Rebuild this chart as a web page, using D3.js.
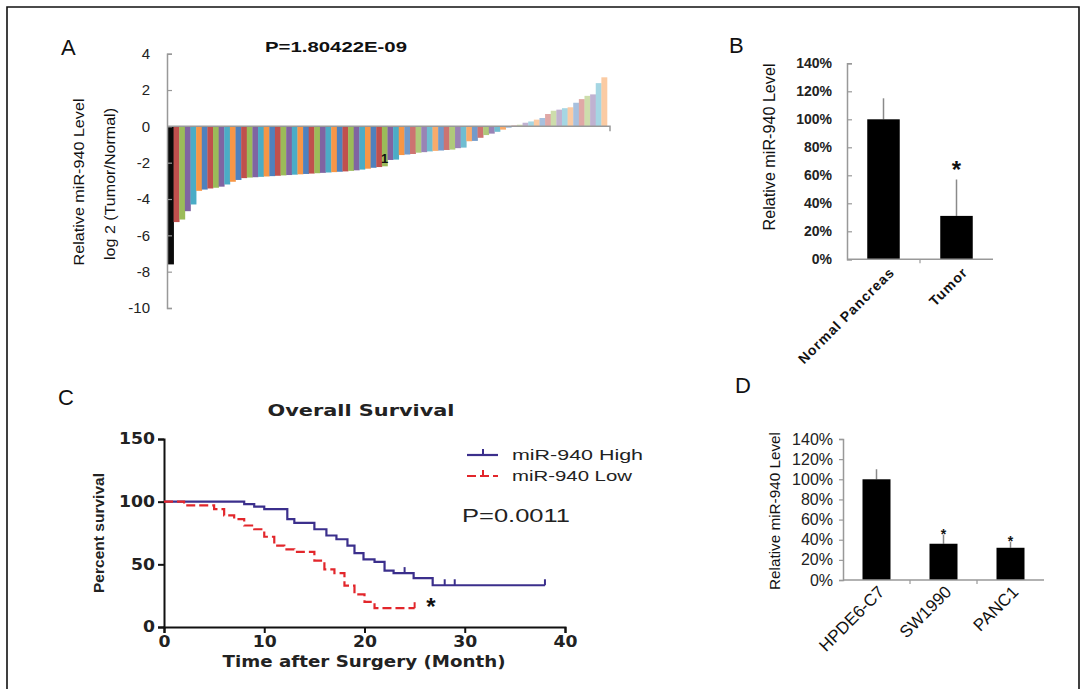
<!DOCTYPE html>
<html>
<head>
<meta charset="utf-8">
<script src="https://cdnjs.cloudflare.com/ajax/libs/d3/7.8.5/d3.min.js"></script>
<style>
  body { margin: 0; background: #fff; }
  svg { display: block; }
</style>
</head>
<body>
<svg id="chart" width="1086" height="689" font-family="Liberation Sans, Arial, sans-serif"></svg>
<script>
// ---- Panel A: log2 tumor/normal per patient (sorted) ----
var ratioValues = [
  -7.6, -5.27, -5.13, -4.67, -4.3, -3.55, -3.48, -3.42, -3.38, -3.32,
  -3.2, -3.05, -2.95, -2.85, -2.82, -2.8, -2.78, -2.76, -2.74, -2.72,
  -2.7, -2.68, -2.66, -2.64, -2.62, -2.6, -2.58, -2.56, -2.54, -2.52,
  -2.5, -2.48, -2.45, -2.42, -2.38, -2.33, -2.28, -2.24, -2.2, -1.85,
  -1.83, -1.58, -1.55, -1.52, -1.45, -1.42, -1.38, -1.35, -1.33, -1.3,
  -1.28, -1.2, -1.17, -0.82, -0.8, -0.63, -0.48, -0.4, -0.3, -0.18,
  -0.08, 0.05, 0.09, 0.2, 0.27, 0.37, 0.46, 0.68, 0.86, 0.92,
  1.0, 1.05, 1.3, 1.5, 1.68, 1.76, 2.38, 2.7
];
var ratioTicks = [4, 2, 0, -2, -4, -6, -8, -10];
var excelPalette = ["#4F81BD", "#C0504D", "#9BBB59", "#8064A2", "#4BACC6", "#F79646"];

// ---- Panel B: tissue ----
var tissueCats = ["Normal Pancreas", "Tumor"];
var tissueMeans = [100, 31];
var tissueErr = [15, 26];
var tissueStar = [false, true];

// ---- Panel C: Kaplan-Meier ----
var highTimes = [0, 8, 9, 10, 12.3, 13, 15, 16.2, 17.2, 18.3, 19, 19.9, 21, 22, 22.9, 24.9, 26.8, 38];
var highSurv  = [100, 98, 96, 94, 86, 83, 78, 73, 70, 65, 59, 54, 52, 45, 43, 39, 33.3, 33.3];
var highCensor = [24, 28, 29, 38];
var lowTimes = [0, 2, 5, 6, 7, 8, 9, 10, 11, 12, 13, 15, 16, 17, 18, 19, 20, 21, 25];
var lowSurv  = [100, 97, 94, 89, 86, 81, 78, 72, 65, 62, 60, 53, 46, 43, 33, 26, 20, 15, 15];
var lowCensor = [25];
var survTicksY = [0, 50, 100, 150];
var survTicksX = [0, 10, 20, 30, 40];

// ---- Panel D: cell lines ----
var cellCats = ["HPDE6-C7", "SW1990", "PANC1"];
var cellMeans = [100, 36, 32];
var cellErr = [10, 9, 6];
var cellStar = [false, true, true];

var pctTicks = [0, 20, 40, 60, 80, 100, 120, 140];

var arial = "Liberation Sans, Arial, sans-serif";
var boldWide = "DejaVu Sans, Verdana, sans-serif";

var svg = d3.select("#chart");
svg.append("rect").attr("width", 1086).attr("height", 689).attr("fill", "#fff");
// figure frame
svg.append("path")
  .attr("d", "M7,689V7H1079V689")
  .attr("fill", "none").attr("stroke", "#111").attr("stroke-width", 1.6);

function panelLetter(txt, x, y) {
  svg.append("text").attr("x", x).attr("y", y)
    .attr("font-size", 22).attr("fill", "#111").text(txt);
}

// ================= A =================
panelLetter("A", 61, 55);
var yA = d3.scaleLinear().domain([-10, 4]).range([308, 53.7]);
var xA = d3.scaleBand().domain(d3.range(ratioValues.length)).range([168, 607]).padding(0);

function barColor(i) {
  if (i === 0) return "#0a0a0a";
  var c = excelPalette[i % 6];
  if (i >= 60) return d3.interpolateRgb(c, "#fff")(0.5);
  if (i >= 42) return d3.interpolateRgb(c, "#fff")(0.2);
  return c;
}

var gA = svg.append("g");
gA.selectAll("rect").data(ratioValues).enter().append("rect")
  .attr("x", function(d, i) { return xA(i); })
  .attr("width", xA.bandwidth() + 0.3)
  .attr("y", function(d) { return yA(Math.max(0, d)); })
  .attr("height", function(d) { return Math.abs(yA(d) - yA(0)); })
  .attr("fill", function(d, i) { return barColor(i); });

var axA = svg.append("g").attr("transform", "translate(167,0)")
  .call(d3.axisLeft(yA).tickValues(ratioTicks).tickSize(-5).tickPadding(17)
    .tickFormat(function(d) { return String(d); }));
axA.select(".domain").attr("stroke", "#999").attr("stroke-width", 1.5);
axA.selectAll(".tick line").attr("stroke", "#999").attr("stroke-width", 1.2);
axA.selectAll(".tick text").style("font-size", "15px").attr("fill", "#222")
  .style("font-family", arial);

// zero line
svg.append("path")
  .attr("d", "M167," + yA(0) + "H610v5")
  .attr("fill", "none").attr("stroke", "#999").attr("stroke-width", 1.5);

// stray label on one bar
svg.append("text").attr("x", xA(38) + xA.bandwidth() / 2).attr("y", yA(ratioValues[38]) - 3)
  .attr("text-anchor", "middle").attr("font-size", 13).attr("font-weight", "bold")
  .attr("fill", "#111").text("1");

svg.append("text").attr("x", 265).attr("y", 52)
  .attr("font-size", 15).attr("font-weight", "bold").attr("fill", "#111")
  .attr("textLength", 142).attr("lengthAdjust", "spacingAndGlyphs")
  .text("P=1.80422E-09");

svg.append("text").attr("transform", "translate(84,182) rotate(-90)")
  .attr("text-anchor", "middle").attr("font-size", 14).attr("fill", "#111")
  .attr("textLength", 167).attr("lengthAdjust", "spacingAndGlyphs")
  .text("Relative miR-940  Level");
svg.append("text").attr("transform", "translate(115,184) rotate(-90)")
  .attr("text-anchor", "middle").attr("font-size", 14).attr("fill", "#111")
  .attr("textLength", 152).attr("lengthAdjust", "spacingAndGlyphs")
  .text("log 2 (Tumor/Normal)");

// ================= bar panels B and D =================
function barPanel(opt) {
  var y = d3.scaleLinear().domain([0, 140]).range([opt.y0, opt.y140]);
  var x = d3.scaleBand().domain(opt.cats).range([opt.axisX, opt.axisEnd]);
  var g = svg.append("g");

  // error bars
  g.selectAll(".err").data(opt.cats).enter().append("line")
    .attr("x1", function(d) { return x(d) + x.bandwidth() / 2; })
    .attr("x2", function(d) { return x(d) + x.bandwidth() / 2; })
    .attr("y1", function(d, i) { return y(opt.means[i]); })
    .attr("y2", function(d, i) { return y(opt.means[i] + opt.err[i]); })
    .attr("stroke", "#8a8a8a").attr("stroke-width", 1.5);

  g.selectAll(".bar").data(opt.cats).enter().append("rect")
    .attr("x", function(d) { return x(d) + (x.bandwidth() - opt.barW) / 2; })
    .attr("width", opt.barW)
    .attr("y", function(d, i) { return y(opt.means[i]); })
    .attr("height", function(d, i) { return y(0) - y(opt.means[i]); })
    .attr("fill", "#000");

  g.selectAll(".star").data(opt.cats).enter().append("text")
    .filter(function(d, i) { return opt.star[i]; })
    .attr("x", function(d) { return x(d) + x.bandwidth() / 2; })
    .attr("y", function(d) { var i = opt.cats.indexOf(d); return y(opt.means[i] + opt.err[i]) + opt.starDy; })
    .attr("text-anchor", "middle").attr("font-size", opt.starSize).attr("font-weight", "bold")
    .attr("fill", "#111").text("*");

  var ax = svg.append("g").attr("transform", "translate(" + opt.axisX + ",0)")
    .call(d3.axisLeft(y).tickValues(pctTicks).tickSize(opt.tickIn ? -5 : 4)
      .tickPadding(opt.tickIn ? 15 : 6).tickFormat(function(d) { return d + "%"; }));
  ax.select(".domain").attr("stroke", "#999").attr("stroke-width", 1.5);
  ax.selectAll(".tick line").attr("stroke", "#999").attr("stroke-width", 1.2);
  ax.selectAll(".tick text").style("font-size", opt.tickFont + "px").attr("fill", "#222")
    .style("font-weight", opt.tickBold ? "bold" : "normal")
    .style("font-family", arial);

  // baseline with separators between categories
  var bx = svg.append("g");
  bx.append("line").attr("x1", opt.axisX).attr("x2", opt.axisEnd)
    .attr("y1", y(0)).attr("y2", y(0)).attr("stroke", "#999").attr("stroke-width", 1.5);
  bx.selectAll(".sep").data(opt.cats.slice(1)).enter().append("line")
    .attr("x1", function(d) { return x(d); }).attr("x2", function(d) { return x(d); })
    .attr("y1", y(0)).attr("y2", y(0) + 4).attr("stroke", "#999").attr("stroke-width", 1.2);

  g.selectAll(".lab").data(opt.cats).enter().append("text")
    .attr("transform", function(d) {
      return "translate(" + (x(d) + x.bandwidth() / 2 + opt.labDx) + "," + (y(0) + opt.labDy) + ") rotate(-45)";
    })
    .attr("text-anchor", "end").attr("font-size", opt.labFont)
    .attr("letter-spacing", opt.labSpacing)
    .attr("font-weight", opt.labBold ? "bold" : "normal").attr("fill", "#111")
    .text(function(d) { return d; });

  svg.append("text").attr("transform", "translate(" + opt.titleX + "," + opt.titleY + ") rotate(-90)")
    .attr("text-anchor", "middle").attr("font-size", opt.titleFont).attr("fill", "#111")
    .attr("textLength", opt.titleLen).attr("lengthAdjust", "spacingAndGlyphs")
    .text("Relative miR-940  Level");
}

panelLetter("B", 729, 53);
barPanel({
  cats: tissueCats, means: tissueMeans, err: tissueErr, star: tissueStar,
  y0: 259.3, y140: 63.3, axisX: 847, axisEnd: 993, barW: 32.5,
  tickIn: true, tickFont: 14, tickBold: true,
  labDx: 12, labDy: 14, labFont: 14, labBold: true, labSpacing: 1,
  starSize: 24, starDy: -2,
  titleX: 775, titleY: 147, titleFont: 16, titleLen: 167
});

panelLetter("D", 735, 393);
barPanel({
  cats: cellCats, means: cellMeans, err: cellErr, star: cellStar,
  y0: 580, y140: 439, axisX: 843, axisEnd: 1044, barW: 28,
  tickIn: false, tickFont: 16, tickBold: false,
  labDx: 9, labDy: 13, labFont: 17, labBold: false, labSpacing: 0,
  starSize: 14, starDy: 4,
  titleX: 780, titleY: 511, titleFont: 15, titleLen: 158
});

// ================= C =================
// the survival panel is horizontally stretched in the figure, so widths are forced
panelLetter("C", 58, 405);
var xC = d3.scaleLinear().domain([0, 40]).range([164, 565]);
var yC = d3.scaleLinear().domain([0, 150]).range([627, 439]);

svg.append("text").attr("x", 361).attr("y", 416).attr("text-anchor", "middle")
  .style("font-family", boldWide).attr("font-weight", "bold").attr("font-size", 16)
  .attr("textLength", 187).attr("lengthAdjust", "spacingAndGlyphs")
  .attr("fill", "#222").text("Overall Survival");

var axCx = svg.append("g").attr("transform", "translate(0," + yC(0) + ")")
  .call(d3.axisBottom(xC).tickValues(survTicksX).tickSize(6).tickPadding(3));
var axCy = svg.append("g").attr("transform", "translate(" + xC(0) + ",0)")
  .call(d3.axisLeft(yC).tickValues(survTicksY).tickSize(6).tickPadding(3));
[axCx, axCy].forEach(function(a) {
  a.select(".domain").attr("stroke", "#111").attr("stroke-width", 2);
  a.selectAll(".tick line").attr("stroke", "#111").attr("stroke-width", 2);
  a.selectAll(".tick text").style("font-family", boldWide).style("font-weight", "bold")
    .style("font-size", "15px").attr("fill", "#222")
    .attr("textLength", function(d) { return String(d).length * 12; })
    .attr("lengthAdjust", "spacingAndGlyphs");
});

svg.append("text").attr("x", 364).attr("y", 667).attr("text-anchor", "middle")
  .style("font-family", boldWide).attr("font-weight", "bold").attr("font-size", 15)
  .attr("textLength", 283).attr("lengthAdjust", "spacingAndGlyphs")
  .attr("fill", "#222").text("Time after Surgery (Month)");
svg.append("text").attr("transform", "translate(104,533) rotate(-90)")
  .attr("text-anchor", "middle").attr("font-weight", "bold").attr("font-size", 15)
  .attr("textLength", 120).attr("lengthAdjust", "spacingAndGlyphs")
  .attr("fill", "#222").text("Percent survival");

var stepLine = d3.line()
  .x(function(d) { return xC(d[0]); })
  .y(function(d) { return yC(d[1]); })
  .curve(d3.curveStepAfter);

function survAt(times, surv, t) {
  var v = surv[0];
  for (var i = 0; i < times.length; i++) { if (times[i] <= t) v = surv[i]; }
  return v;
}

function drawCurve(times, surv, censor, color, dash) {
  svg.append("path")
    .datum(times.map(function(t, i) { return [t, surv[i]]; }))
    .attr("d", stepLine)
    .attr("fill", "none").attr("stroke", color).attr("stroke-width", 2.2)
    .attr("stroke-dasharray", dash);
  svg.selectAll(null).data(censor).enter().append("line")
    .attr("x1", function(d) { return xC(d); }).attr("x2", function(d) { return xC(d); })
    .attr("y1", function(d) { return yC(survAt(times, surv, d)); })
    .attr("y2", function(d) { return yC(survAt(times, surv, d)) - 6; })
    .attr("stroke", color).attr("stroke-width", 2);
}

var blue = "#3b2f8c", red = "#e2262b";
drawCurve(highTimes, highSurv, highCensor, blue, null);
drawCurve(lowTimes, lowSurv, lowCensor, red, "9,4");

svg.append("text").attr("x", 431).attr("y", 615).attr("text-anchor", "middle")
  .attr("font-size", 24).attr("font-weight", "bold").attr("fill", "#111").text("*");

// legend
var legend = [
  { label: "miR-940 High", color: blue, dash: null, y: 455, len: 131 },
  { label: "miR-940 Low", color: red, dash: "9,4", y: 476, len: 120 }
];
var lg = svg.selectAll(".lg").data(legend).enter().append("g");
lg.append("line").attr("x1", 467).attr("x2", 498)
  .attr("y1", function(d) { return d.y; }).attr("y2", function(d) { return d.y; })
  .attr("stroke", function(d) { return d.color; }).attr("stroke-width", 2.2)
  .attr("stroke-dasharray", function(d) { return d.dash; });
lg.append("line").attr("x1", 483).attr("x2", 483)
  .attr("y1", function(d) { return d.y; }).attr("y2", function(d) { return d.y - 6; })
  .attr("stroke", function(d) { return d.color; }).attr("stroke-width", 2);
lg.append("text").attr("x", 512).attr("y", function(d) { return d.y + 5; })
  .attr("font-size", 15).attr("fill", "#222")
  .attr("textLength", function(d) { return d.len; }).attr("lengthAdjust", "spacingAndGlyphs")
  .text(function(d) { return d.label; });

svg.append("text").attr("x", 462).attr("y", 522)
  .attr("font-size", 18).attr("fill", "#222")
  .attr("textLength", 108).attr("lengthAdjust", "spacingAndGlyphs")
  .text("P=0.0011");
</script>
</body>
</html>
